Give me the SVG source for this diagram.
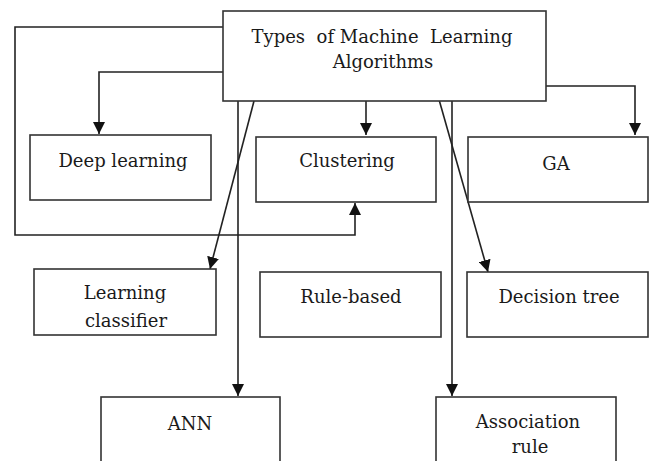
<svg xmlns="http://www.w3.org/2000/svg" width="651" height="461" viewBox="0 0 651 461">
  <defs>
    <marker id="arrow" viewBox="0 0 12 12" refX="12" refY="6" markerWidth="12" markerHeight="12" markerUnits="userSpaceOnUse" orient="auto">
      <path d="M0,0 L12,6 L0,12 z" fill="#111"/>
    </marker>
  </defs>
  <style>
    .box { fill: #fff; stroke: #333; stroke-width: 1.6; }
    .lbl { font-size: 18px; fill: #1a1a1a; text-anchor: middle; }
    .conn { fill: none; stroke: #222; stroke-width: 1.6; }
  </style>
  <rect width="651" height="461" fill="#fff"/>

  <!-- connectors -->
  <g id="connectors">
    <path class="conn" d="M223,27 H15 V235 H355 V203" marker-end="url(#arrow)"/>
    <path class="conn" d="M223,72 H99 V134" marker-end="url(#arrow)"/>
    <path class="conn" d="M366,101 V135" marker-end="url(#arrow)"/>
    <path class="conn" d="M546,86 H635 V135" marker-end="url(#arrow)"/>
    <path class="conn" d="M238,101 V396" marker-end="url(#arrow)"/>
    <path class="conn" d="M254,101 L210,269" marker-end="url(#arrow)"/>
    <path class="conn" d="M452,101 V396" marker-end="url(#arrow)"/>
    <path class="conn" d="M438,96 L488,272" marker-end="url(#arrow)"/>
  </g>

  <!-- nodes -->
  <g font-family="DejaVu Serif">
  <g id="root">
    <rect class="box" x="223" y="11" width="323" height="90"/>
    <text class="lbl" x="382" y="43" xml:space="preserve">Types  of Machine  Learning</text>
    <text class="lbl" x="383" y="68">Algorithms</text>
  </g>
  <g id="deep-learning">
    <rect class="box" x="30" y="135" width="181" height="65"/>
    <text class="lbl" x="123" y="167">Deep learning</text>
  </g>
  <g id="clustering">
    <rect class="box" x="256" y="137" width="180" height="65"/>
    <text class="lbl" x="347" y="167">Clustering</text>
  </g>
  <g id="ga">
    <rect class="box" x="468" y="137" width="180" height="65"/>
    <text class="lbl" x="556" y="170">GA</text>
  </g>
  <g id="learning-classifier">
    <rect class="box" x="34" y="269" width="182" height="66"/>
    <text class="lbl" x="125" y="299">Learning</text>
    <text class="lbl" x="126" y="327">classifier</text>
  </g>
  <g id="rule-based">
    <rect class="box" x="260" y="272" width="181" height="65"/>
    <text class="lbl" x="351" y="303">Rule-based</text>
  </g>
  <g id="decision-tree">
    <rect class="box" x="467" y="272" width="181" height="65"/>
    <text class="lbl" x="559" y="303">Decision tree</text>
  </g>
  <g id="ann">
    <rect class="box" x="101" y="397" width="179" height="80"/>
    <text class="lbl" x="190" y="430">ANN</text>
  </g>
  <g id="association-rule">
    <rect class="box" x="436" y="397" width="180" height="80"/>
    <text class="lbl" x="528" y="428">Association</text>
    <text class="lbl" x="530" y="453">rule</text>
  </g>
  </g>
</svg>
